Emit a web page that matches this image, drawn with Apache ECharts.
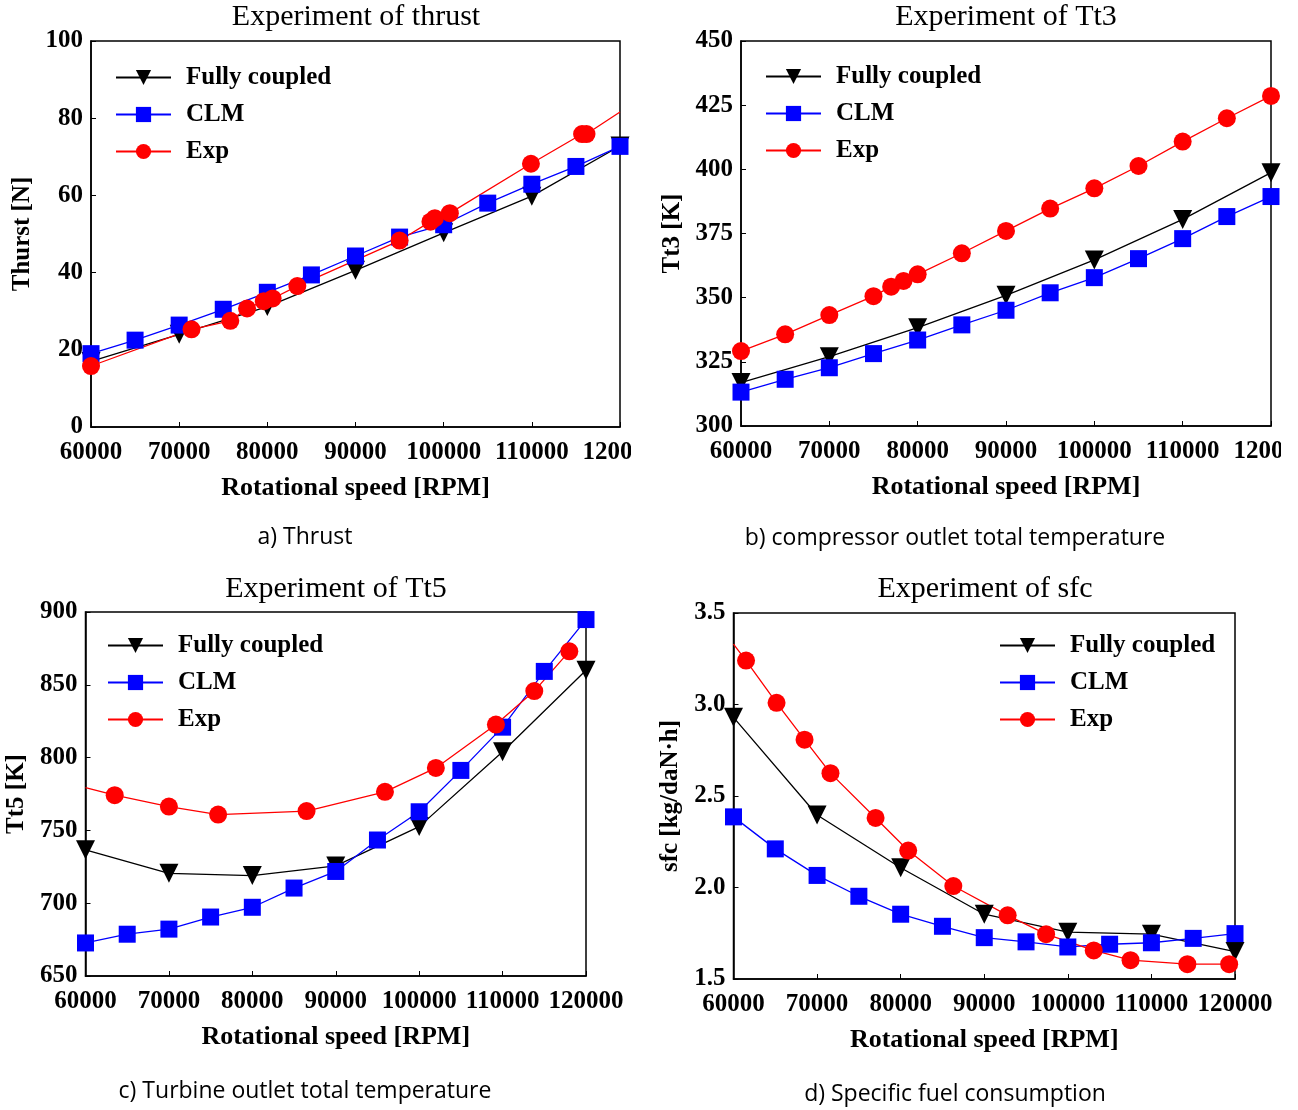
<!DOCTYPE html>
<html>
<head>
<meta charset="utf-8">
<script src="https://cdn.jsdelivr.net/npm/echarts@6/dist/echarts.min.js"></script>
<style>
  html, body { margin: 0; padding: 0; background: #fff; }
  .panel { position: absolute; overflow: hidden; }
</style>
</head>
<body>
<div id="chart_a" class="panel" style="left:0;top:0;width:631px;height:560px;"></div>
<div id="chart_b" class="panel" style="left:650px;top:0;width:631px;height:560px;"></div>
<div id="chart_c" class="panel" style="left:0;top:570px;width:640px;height:540px;"></div>
<div id="chart_d" class="panel" style="left:650px;top:570px;width:648px;height:540px;"></div>
<script>
// thrust
var thrustFullRpm = [60000, 70000, 80000, 90000, 100000, 110000, 120000];
var thrustFull = [17.0, 24.0, 31.2, 40.6, 50.3, 59.8, 72.8];
var thrustClmRpm = [60000, 65000, 70000, 75000, 80000, 85000, 90000, 95000, 100000, 105000, 110000, 115000, 120000];
var thrustClm = [19.0, 22.5, 26.4, 30.5, 34.9, 39.4, 44.3, 49.2, 52.4, 58.0, 62.9, 67.5, 72.7];
var thrustExpRpm = [60000, 71400, 75800, 77700, 79600, 80600, 83400, 95000, 98500, 99000, 100700, 109900, 115700, 116200, 120000];
var thrustExp = [15.8, 25.3, 27.5, 30.7, 32.6, 33.3, 36.5, 48.3, 53.2, 54.1, 55.4, 68.2, 75.9, 75.9, 81.6];
var thrustExpBare = [14];

// Tt3
var tt3FullRpm = [60000, 70000, 80000, 90000, 100000, 110000, 120000];
var tt3Full = [316.9, 327.0, 338.3, 350.9, 364.7, 380.5, 398.7];
var tt3ClmRpm = [60000, 65000, 70000, 75000, 80000, 85000, 90000, 95000, 100000, 105000, 110000, 115000, 120000];
var tt3Clm = [313.2, 318.2, 322.7, 328.2, 333.5, 339.4, 345.1, 351.9, 357.8, 365.2, 373.0, 381.6, 389.4];
var tt3ExpRpm = [60000, 65000, 70000, 75000, 77000, 78400, 80000, 85000, 90000, 95000, 100000, 105000, 110000, 115000, 120000];
var tt3Exp = [329.2, 335.7, 343.2, 350.6, 354.3, 356.5, 359.1, 367.3, 376.0, 384.7, 392.6, 401.3, 410.8, 419.9, 428.6];
var tt3ExpBare = [];

// Tt5
var tt5FullRpm = [60000, 70000, 80000, 90000, 100000, 110000, 120000];
var tt5Full = [736.7, 720.5, 719.0, 725.6, 752.6, 804.0, 860.0];
var tt5ClmRpm = [60000, 65000, 70000, 75000, 80000, 85000, 90000, 95000, 100000, 105000, 110000, 115000, 120000];
var tt5Clm = [672.7, 678.7, 682.2, 690.5, 697.2, 710.4, 721.8, 743.4, 762.8, 791.2, 820.9, 859.2, 894.8];
var tt5ExpRpm = [60000, 63500, 70000, 75900, 86500, 95900, 102000, 109200, 113800, 118000];
var tt5Exp = [779.4, 774.2, 766.4, 760.9, 763.3, 776.5, 792.9, 822.7, 845.7, 873.0];
var tt5ExpBare = [0];

// sfc
var sfcFullRpm = [60000, 70000, 80000, 90000, 100000, 110000, 120000];
var sfcFull = [2.93, 2.396, 2.108, 1.854, 1.756, 1.745, 1.65];
var sfcClmRpm = [60000, 65000, 70000, 75000, 80000, 85000, 90000, 95000, 100000, 105000, 110000, 115000, 120000];
var sfcClm = [2.386, 2.211, 2.066, 1.952, 1.854, 1.788, 1.726, 1.703, 1.675, 1.69, 1.698, 1.722, 1.748];
var sfcExpRpm = [60000, 61500, 65150, 68500, 71600, 77000, 80900, 86300, 92800, 97400, 103100, 107500, 114300, 119300];
var sfcExp = [3.33, 3.24, 3.009, 2.808, 2.625, 2.38, 2.202, 2.008, 1.848, 1.745, 1.656, 1.603, 1.581, 1.581];
var sfcExpBare = [0];

var rpmMin = 60000, rpmMax = 120000, rpmStep = 10000;

var serif = '"Liberation Serif", "Times New Roman", serif';
var triDown = 'path://M0,0 L10,0 L5,9 Z';

function pts(xs, ys, bare) {
    return xs.map(function(x, i) {
        var p = { value: [x, ys[i]] };
        if (bare && bare.indexOf(i) >= 0) p.symbol = 'none';
        return p;
    });
}

function makeSeries(name, data, color, symbol, size) {
    return {
        name: name,
        type: 'line',
        data: data,
        symbol: symbol,
        symbolSize: size,
        smooth: false,
        lineStyle: { color: color, width: 1.3 },
        itemStyle: { color: color },
        clip: true,
        z: 3
    };
}

function initPanel(id, cfg) {
    var chart = echarts.init(document.getElementById(id));
    var option = {
        animation: false,
        grid: {
            left: cfg.grid[0], top: cfg.grid[1], width: cfg.grid[2], height: cfg.grid[3],
            outerBoundsMode: 'none', containLabel: false,
            show: true, borderColor: '#000', borderWidth: 1.5, backgroundColor: 'transparent'
        },
        legend: {
            orient: 'vertical',
            left: cfg.legend[0], top: cfg.legend[1], padding: 0,
            itemWidth: 55, itemHeight: 19, itemGap: 12,
            data: ['Fully coupled', 'CLM', 'Exp'],
            textStyle: { fontFamily: serif, fontWeight: 'bold', fontSize: 25, color: '#000', padding: [0, 0, 0, 10] }
        },
        xAxis: {
            type: 'value', min: rpmMin, max: rpmMax, interval: rpmStep,
            name: 'Rotational speed [RPM]', nameLocation: 'middle', nameGap: 48,
            nameTextStyle: { fontFamily: serif, fontWeight: 'bold', fontSize: 26, color: '#000' },
            axisLine: { show: true, lineStyle: { color: '#000', width: 1.5 } },
            axisTick: { show: true, inside: true, length: 5, lineStyle: { color: '#000' } },
            axisLabel: { margin: 13, fontFamily: serif, fontWeight: 'bold', fontSize: 25, color: '#000',
                         formatter: function(v) { return String(v); },
                         showMinLabel: true, showMaxLabel: true, hideOverlap: false },
            splitLine: { show: false }
        },
        yAxis: {
            type: 'value', min: cfg.y[0], max: cfg.y[1], interval: cfg.y[2],
            name: cfg.yName, nameLocation: 'middle', nameGap: cfg.yGap,
            nameTextStyle: { fontFamily: serif, fontWeight: 'bold', fontSize: 25, color: '#000' },
            axisLine: { show: true, lineStyle: { color: '#000', width: 1.5 } },
            axisTick: { show: true, inside: true, length: 5, lineStyle: { color: '#000' } },
            axisLabel: { margin: 8, fontFamily: serif, fontWeight: 'bold', fontSize: 25, color: '#000',
                         formatter: cfg.yFmt || function(v) { return String(v); },
                         showMinLabel: true, showMaxLabel: true },
            splitLine: { show: false }
        },
        graphic: [
            { type: 'text', x: cfg.title[1], y: cfg.title[2],
              style: { text: cfg.title[0], align: 'center', verticalAlign: 'middle',
                       font: '30px ' + serif, fill: '#000' } },
            { type: 'text', x: cfg.caption[1], y: cfg.caption[2],
              style: { text: cfg.caption[0], align: 'center', verticalAlign: 'middle',
                       font: '23px "Open Sans", "Noto Sans", sans-serif', fill: '#000' } }
        ],
        series: [
            makeSeries('Fully coupled', pts(cfg.full[0], cfg.full[1]), '#000000', triDown, 19),
            makeSeries('CLM', pts(cfg.clm[0], cfg.clm[1]), '#0000ff', 'rect', 17),
            makeSeries('Exp', pts(cfg.exp[0], cfg.exp[1], cfg.exp[2]), '#ff0000', 'circle', 18)
        ]
    };
    chart.setOption(option);
    return chart;
}

initPanel('chart_a', {
    grid: [91, 41, 529, 386], legend: [115, 65],
    y: [0, 100, 20], yName: 'Thurst [N]', yGap: 56,
    title: ['Experiment of thrust', 356, 17],
    caption: ['a) Thrust', 305, 537],
    full: [thrustFullRpm, thrustFull], clm: [thrustClmRpm, thrustClm], exp: [thrustExpRpm, thrustExp, thrustExpBare]
});

initPanel('chart_b', {
    grid: [91, 41, 530, 385], legend: [115, 64],
    y: [300, 450, 25], yName: 'Tt3 [K]', yGap: 56,
    title: ['Experiment of Tt3', 356, 17],
    caption: ['b) compressor outlet total temperature', 305, 538],
    full: [tt3FullRpm, tt3Full], clm: [tt3ClmRpm, tt3Clm], exp: [tt3ExpRpm, tt3Exp, tt3ExpBare]
});

initPanel('chart_c', {
    grid: [85.5, 42, 500.5, 364], legend: [107, 63],
    y: [650, 900, 50], yName: 'Tt5 [K]', yGap: 54,
    title: ['Experiment of Tt5', 336, 19],
    caption: ['c) Turbine outlet total temperature', 305, 521],
    full: [tt5FullRpm, tt5Full], clm: [tt5ClmRpm, tt5Clm], exp: [tt5ExpRpm, tt5Exp, tt5ExpBare]
});

initPanel('chart_d', {
    grid: [83.5, 43, 501.5, 366], legend: [349, 63],
    y: [1.5, 3.5, 0.5], yName: 'sfc [kg/daN\u00b7h]', yGap: 48,
    yFmt: function(v) { return v.toFixed(1); },
    title: ['Experiment of sfc', 335, 19],
    caption: ['d) Specific fuel consumption', 305, 524],
    full: [sfcFullRpm, sfcFull], clm: [sfcClmRpm, sfcClm], exp: [sfcExpRpm, sfcExp, sfcExpBare]
});
</script>
</body>
</html>
